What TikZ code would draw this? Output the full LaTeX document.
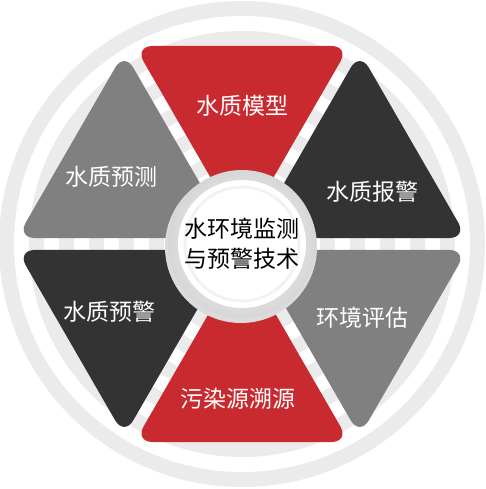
\documentclass[tikz,border=0pt]{standalone}
\usepackage{fontspec}
\newfontfamily\cjk{Noto Sans CJK SC}
\usepackage{tikz}
\usetikzlibrary{calc}
\definecolor{wqred}{RGB}{200,42,48}
\definecolor{wqdark}{RGB}{51,51,51}
\definecolor{wqgray}{RGB}{128,128,128}
\definecolor{wqring}{RGB}{235,235,235}
\tikzstyle{petal} = [rounded corners=18pt]
\tikzstyle{petaltext} = [text=white, font=\cjk\fontsize{23}{27}\selectfont]
\tikzstyle{hub} = [circle, minimum size=128pt, inner sep=0pt, fill=white, align=center, text=black, font=\cjk\fontsize{23}{30}\selectfont,
    path picture={\draw[black!5, line width=3pt] (path picture bounding box.center) circle (57pt);}]

\begin{document}
\begin{tikzpicture}[x=1pt, y=1pt]
    \useasboundingbox (-242,-245) rectangle (243,244);

    % Rings
    \foreach \r in {243,213,183,153,123,93} {
        \fill[wqring] (0,0) circle (\r);
        \fill[white] (0,0) circle (\r-15);
    }

    % Triangles
    \fill[petal, wqred] (0,12) -- (107.4,198) -- (-107.4,198) -- cycle;
    \fill[petal, wqdark, rotate=-60] (0,12) -- (107.4,198) -- (-107.4,198) -- cycle;
    \fill[petal, wqgray, rotate=-120] (0,12) -- (107.4,198) -- (-107.4,198) -- cycle;
    \fill[petal, wqred, rotate=180] (0,12) -- (107.4,198) -- (-107.4,198) -- cycle;
    \fill[petal, wqdark, rotate=120] (0,12) -- (107.4,198) -- (-107.4,198) -- cycle;
    \fill[petal, wqgray, rotate=60] (0,12) -- (107.4,198) -- (-107.4,198) -- cycle;

    % Labels
    \node[petaltext] (model) at (0,138) {水质模型};
    \node[petaltext] (alarm) at (130,52) {水质报警};
    \node[petaltext] (assess) at (120,-74) {环境评估};
    \node[petaltext] (trace) at (-4,-155) {污染源溯源};
    \node[petaltext] (warn) at (-132,-68) {水质预警};
    \node[petaltext] (forecast) at (-130,67) {水质预测};

    % Centre
    \fill[black!14] (-1,-3) circle (76);
    \shade[inner color=white, outer color=black!16] (0,0) circle (74);
    \node[hub] (hub) at (0,0) {水环境监测\\与预警技术};
\end{tikzpicture}
\end{document}
